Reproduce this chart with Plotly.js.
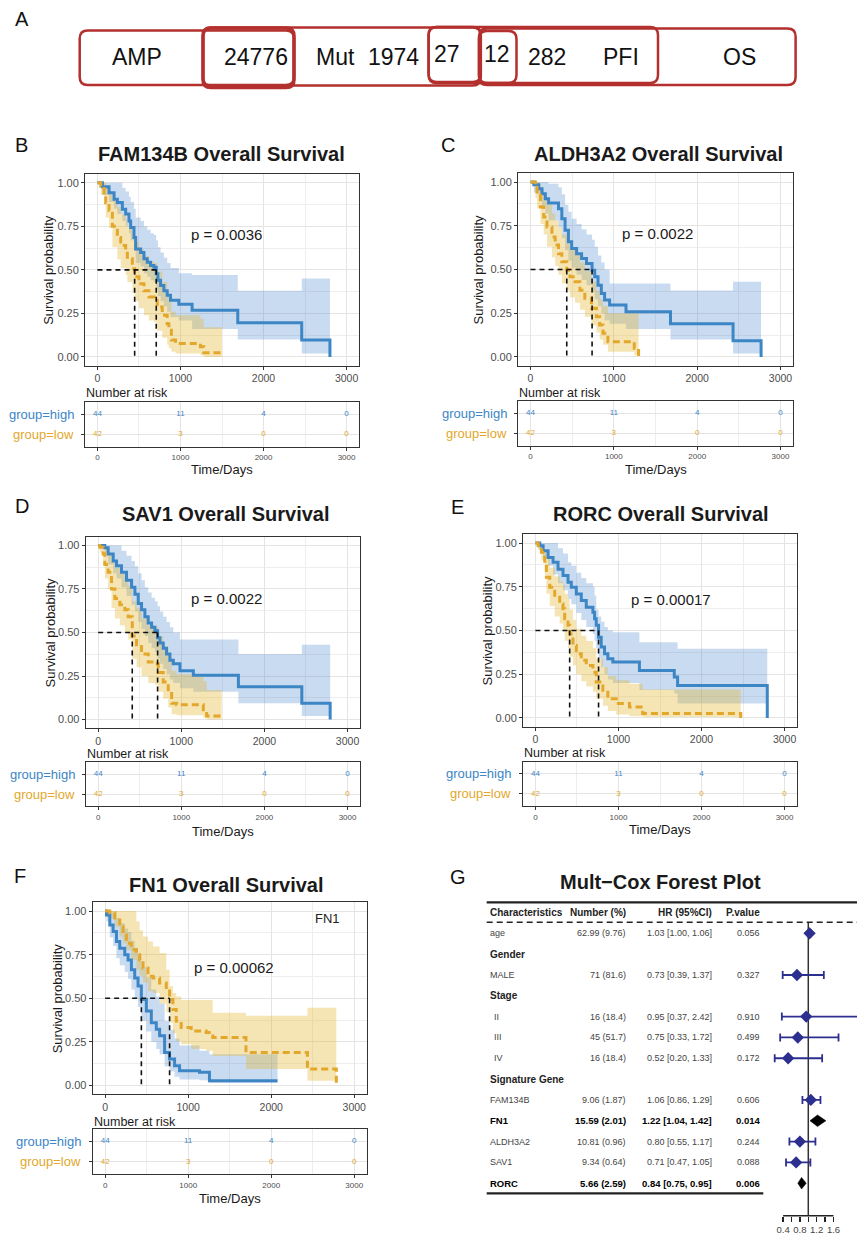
<!DOCTYPE html>
<html><head><meta charset="utf-8">
<script src="https://cdn.plot.ly/plotly-3.0.1.min.js"></script>
<style>html,body{margin:0;padding:0;background:#fff}#chart{width:857px;height:1236px}</style>
</head><body><div id="chart"></div>
<script>
// ---------------- DATA ----------------
// Panel A
const panelA_labels = ['AMP','24776','Mut','1974','27','12','282','PFI','OS'];

// Risk table (same for all KM panels)
const risk_times = [0,1000,2000,3000];
const risk_high = [44,11,4,0];
const risk_low = [42,3,0,0];
const pvalues = ['p = 0.0036','p = 0.0022','p = 0.0022','p = 0.00017','p = 0.00062'];

// B: FAM134B
const fam_high_t = [0,60,140,200,240,300,340,380,400,440,460,520,560,600,640,680,708,728,760,800,840,880,980,1140,1690,2460,2800];
const fam_high_s = [1,.977,.943,.905,.886,.848,.82,.78,.743,.686,.62,.60,.563,.544,.525,.515,.477,.44,.41,.38,.354,.325,.302,.268,.196,.097,0];
const fam_high_upper = [1,1,1,1,1,.97,.95,.92,.89,.85,.80,.78,.75,.73,.71,.70,.67,.63,.60,.57,.54,.51,.48,.47,.38,.45,.45];
const fam_high_lower = [1,.93,.89,.85,.82,.78,.75,.71,.67,.61,.54,.52,.48,.46,.44,.43,.39,.35,.32,.29,.26,.23,.21,.16,.10,.02,.02];
const fam_low_t = [0,40,80,100,140,180,240,280,340,360,420,448,500,560,620,680,720,780,840,860,890,940,1240,1280,1500];
const fam_low_s = [1,.98,.943,.886,.84,.75,.686,.64,.61,.563,.506,.46,.42,.38,.344,.335,.287,.24,.19,.154,.097,.078,.059,.025,.025];
const fam_low_upper = [1,1,1,.98,.95,.91,.86,.82,.79,.75,.70,.66,.62,.58,.55,.54,.49,.43,.37,.33,.26,.24,.22,.17,.17];
const fam_low_lower = [1,.93,.87,.80,.74,.63,.56,.51,.47,.43,.37,.32,.28,.24,.21,.20,.15,.11,.07,.05,.03,.02,.01,0,0];

// C: ALDH3A2
const aldh_high_t = [0,40,99,138,178,217,336,376,415,455,494,553,613,672,739,771,810,850,889,949,1146,1680,2431,2767];
const aldh_high_s = [1,.985,.962,.933,.905,.88,.848,.79,.724,.658,.62,.59,.563,.534,.496,.458,.41,.363,.325,.297,.259,.19,.093,0];
const aldh_high_upper = [1,1,1,1,1,.99,.97,.93,.87,.83,.79,.76,.73,.70,.67,.63,.58,.54,.50,.42,.42,.38,.43,.43];
const aldh_high_lower = [1,.94,.90,.86,.82,.78,.74,.68,.61,.55,.51,.47,.44,.41,.37,.33,.29,.25,.21,.19,.16,.10,.02,.02];
const aldh_low_t = [0,59,79,119,158,198,257,296,336,376,435,474,534,593,652,731,791,830,870,929,1245,1297];
const aldh_low_s = [1,.97,.924,.857,.80,.743,.686,.64,.59,.544,.496,.458,.43,.382,.335,.278,.23,.183,.135,.087,.05,0];
const aldh_low_upper = [1,1,.99,.96,.92,.87,.82,.78,.74,.70,.65,.62,.59,.54,.49,.43,.38,.33,.29,.25,.25,.25];
const aldh_low_lower = [1,.91,.85,.76,.70,.63,.57,.52,.47,.42,.38,.34,.31,.27,.23,.18,.14,.10,.07,.03,.01,.01];

// D: SAV1
const sav_high_t = [0,80,120,181,221,281,341,402,442,482,522,562,602,643,683,715,743,783,823,863,904,984,1145,1687,2450,2791];
const sav_high_s = [1,.987,.95,.91,.883,.846,.80,.76,.72,.667,.63,.59,.554,.53,.51,.47,.44,.41,.376,.34,.32,.28,.254,.188,.094,0];
const sav_high_upper = [1,1,1,1,1,.97,.94,.91,.88,.84,.80,.76,.73,.70,.68,.65,.62,.59,.56,.53,.50,.46,.46,.376,.43,.43];
const sav_high_lower = [1,.95,.89,.84,.81,.76,.71,.66,.62,.56,.52,.48,.44,.41,.39,.35,.32,.29,.26,.23,.21,.18,.16,.094,.02,.02];
const sav_low_t = [0,20,60,80,120,161,201,261,321,361,410,462,522,602,683,723,783,843,884,944,1265,1305,1486];
const sav_low_s = [1,.99,.95,.89,.846,.75,.695,.66,.63,.59,.48,.43,.376,.33,.32,.27,.216,.16,.094,.085,.056,.02,.02];
const sav_low_upper = [1,1,1,.99,.96,.91,.87,.84,.81,.77,.68,.64,.58,.54,.53,.48,.42,.36,.28,.26,.22,.17,.17];
const sav_low_lower = [1,.96,.89,.81,.75,.64,.58,.54,.50,.46,.35,.30,.25,.21,.20,.16,.12,.07,.03,.025,.01,0,0];

// E: RORC
const rorc_high_t = [0,52,92,152,212,272,332,392,432,492,552,612,692,712,732,760,792,832,872,932,1252,1672,1712,2792];
const rorc_high_s = [1,.985,.956,.918,.89,.85,.814,.776,.747,.709,.671,.633,.605,.567,.53,.462,.405,.367,.338,.32,.272,.234,.186,0];
const rorc_high_upper = [1,1,1,1,1,.97,.94,.89,.87,.83,.80,.77,.75,.70,.62,.58,.55,.52,.50,.49,.433,.433,.395,.395];
const rorc_high_lower = [1,.95,.91,.87,.82,.77,.73,.68,.65,.60,.56,.52,.48,.44,.40,.34,.29,.25,.22,.20,.16,.14,.082,.082];
const rorc_low_t = [0,32,72,112,132,172,232,292,332,352,392,412,452,492,552,612,692,732,812,872,972,1132,1292,2472];
const rorc_low_s = [1,.985,.947,.88,.804,.747,.69,.652,.624,.567,.53,.48,.414,.367,.33,.30,.262,.205,.158,.11,.082,.063,.025,0];
const rorc_low_upper = [1,1,.985,.95,.91,.86,.81,.78,.76,.71,.68,.62,.56,.51,.47,.44,.40,.34,.29,.24,.215,.195,.163,.163];
const rorc_low_lower = [1,.96,.90,.81,.71,.64,.58,.54,.50,.44,.40,.35,.30,.25,.21,.18,.15,.11,.07,.04,.02,.01,.005,.005];

// F: FN1
const fn1_high_t = [0,16,56,96,136,176,236,276,316,356,396,436,496,556,616,656,716,776,836,896,1136,1256,2076];
const fn1_high_s = [1,.977,.92,.882,.825,.787,.75,.72,.664,.617,.57,.493,.427,.36,.323,.285,.19,.152,.114,.085,.076,.028,.028];
const fn1_high_upper = [1,1,1,.99,.96,.93,.90,.88,.83,.79,.75,.68,.62,.55,.51,.47,.37,.32,.27,.23,.20,.18,.18];
const fn1_high_lower = [1,.94,.85,.80,.73,.69,.65,.61,.55,.50,.45,.37,.31,.25,.21,.18,.11,.08,.05,.035,.03,.015,.015];
const fn1_low_t = [0,56,116,176,216,256,316,376,416,456,516,576,656,736,776,816,856,916,1036,1216,1296,1696,2436,2784];
const fn1_low_s = [1,.99,.96,.91,.863,.816,.778,.75,.72,.674,.626,.617,.588,.55,.493,.436,.37,.332,.313,.304,.275,.19,.095,.01];
const fn1_low_upper = [1,1,1,1,1,1,1,.94,.89,.854,.825,.797,.759,.664,.57,.53,.51,.49,.49,.49,.417,.40,.446,.446];
const fn1_low_lower = [1,.958,.91,.854,.816,.778,.72,.664,.63,.59,.54,.53,.47,.42,.36,.30,.256,.237,.21,.20,.17,.095,.028,.028];

// G: forest plot
const forest_labels = ['age','Gender','MALE','Stage','II','III','IV','Signature Gene','FAM134B','FN1','ALDH3A2','SAV1','RORC'];
const forest_number = ['62.99 (9.76)','','71 (81.6)','','16 (18.4)','45 (51.7)','16 (18.4)','','9.06 (1.87)','15.59 (2.01)','10.81 (0.96)','9.34 (0.64)','5.66 (2.59)'];
const forest_hr = [1.03,null,0.73,null,0.95,0.75,0.52,null,1.06,1.22,0.80,0.71,0.84];
const forest_lo = [1.00,null,0.39,null,0.37,0.33,0.20,null,0.86,1.04,0.55,0.47,0.75];
const forest_hi = [1.06,null,1.37,null,2.42,1.72,1.33,null,1.29,1.42,1.17,1.05,0.95];
const forest_p = ['0.056','','0.327','','0.910','0.499','0.172','','0.606','0.014','0.244','0.088','0.006'];
const forest_ticks = [0.4,0.6,0.8,1.0,1.2,1.4,1.6];

// ---------------- STYLE / LAYOUT ----------------
const W = 857, H = 1236;
const FONT = 'Liberation Sans, Arial, Helvetica, sans-serif';
const BLUE = '#3C86C6', ORANGE = '#E2A72B', NAVY = '#2D2F8E', RED = '#B3302E';
const BLUE_BAND = 'rgba(60,125,200,0.28)', ORANGE_BAND = 'rgba(228,178,35,0.34)';
const GRID = '#E6E3E3', MINOR = '#EFEDED';
const px = x => x / W, py = y => 1 - y / H;

const panels = [
  {title:'FAM134B Overall Survival', ht:fam_high_t, hs:fam_high_s, hu:fam_high_upper, hl:fam_high_lower, lt:fam_low_t, ls:fam_low_s, lu:fam_low_upper, ll:fam_low_lower},
  {title:'ALDH3A2 Overall Survival', ht:aldh_high_t, hs:aldh_high_s, hu:aldh_high_upper, hl:aldh_high_lower, lt:aldh_low_t, ls:aldh_low_s, lu:aldh_low_upper, ll:aldh_low_lower},
  {title:'SAV1 Overall Survival', ht:sav_high_t, hs:sav_high_s, hu:sav_high_upper, hl:sav_high_lower, lt:sav_low_t, ls:sav_low_s, lu:sav_low_upper, ll:sav_low_lower},
  {title:'RORC Overall Survival', ht:rorc_high_t, hs:rorc_high_s, hu:rorc_high_upper, hl:rorc_high_lower, lt:rorc_low_t, ls:rorc_low_s, lu:rorc_low_upper, ll:rorc_low_lower},
  {title:'FN1 Overall Survival', ht:fn1_high_t, hs:fn1_high_s, hu:fn1_high_upper, hl:fn1_high_lower, lt:fn1_low_t, ls:fn1_low_s, lu:fn1_low_upper, ll:fn1_low_lower}
];
const letters = ['B','C','D','E','F'];
const POS = [
  {x:[85,359], y:[174,365.7], r:[402,446.5], title:[221,154], letter:[21,145], ytitle:49, nar:392.5, lblRight:76, time:469, pv:[1100,0.70]},
  {x:[518,793], y:[173.3,365.7], r:[401,445.5], title:[658,154], letter:[448,145], ytitle:478, nar:392.5, lblRight:509, time:469, pv:[1075,0.705]},
  {x:[85.7,360], y:[536.7,728.3], r:[762.3,806], title:[226,514], letter:[22,506], ytitle:50, nar:753.5, lblRight:77, time:831.7, pv:[1089,0.695]},
  {x:[523,797], y:[534.3,726.7], r:[761.7,806], title:[661,514], letter:[457,507], ytitle:487, nar:752.8, lblRight:513, time:829, pv:[1129,0.68]},
  {x:[92.7,366.7], y:[902.3,1094.3], r:[1129.3,1174], title:[226,885], letter:[20,876], ytitle:57, nar:1121.5, lblRight:83, time:1198, pv:[1040,0.677]}
];

function median(t, s) { for (let i = 0; i < s.length; i++) if (s[i] <= 0.5) return t[i]; return null; }
const ax = (n, c) => c + (n === 1 ? '' : n);
const axKey = (n, c) => c + 'axis' + (n === 1 ? '' : n);

const traces = [], annotations = [], shapes = [];
const layout = {
  width: W, height: H, margin: {l:0, r:0, t:0, b:0},
  paper_bgcolor: '#ffffff', plot_bgcolor: 'rgba(0,0,0,0)',
  showlegend: false, font: {family: FONT, color: '#222'},
  annotations, shapes
};

function addText(text, x, y, size, opts) {
  annotations.push(Object.assign({text, x: px(x), y: py(y), xref:'paper', yref:'paper', showarrow:false,
    xanchor:'center', yanchor:'middle', font:{family:FONT, size, color:'#1A1A1A'}}, opts || {}));
}

panels.forEach((p, i) => {
  const P = POS[i];
  const k = 2*i + 1, r = 2*i + 2;
  const xk = ax(k,'x'), yk = ax(k,'y'), xr = ax(r,'x'), yr = ax(r,'y');
  const base = {xaxis: xk, yaxis: yk, hoverinfo:'skip', showlegend:false};
  // confidence bands
  traces.push(Object.assign({x:p.ht, y:p.hu, mode:'lines', line:{shape:'hv', width:0, color:'rgba(0,0,0,0)'}}, base));
  traces.push(Object.assign({x:p.ht, y:p.hl, mode:'lines', fill:'tonexty', fillcolor:BLUE_BAND, line:{shape:'hv', width:0, color:'rgba(0,0,0,0)'}}, base));
  traces.push(Object.assign({x:p.lt, y:p.lu, mode:'lines', line:{shape:'hv', width:0, color:'rgba(0,0,0,0)'}}, base));
  traces.push(Object.assign({x:p.lt, y:p.ll, mode:'lines', fill:'tonexty', fillcolor:ORANGE_BAND, line:{shape:'hv', width:0, color:'rgba(0,0,0,0)'}}, base));
  // curves
  traces.push(Object.assign({x:p.ht, y:p.hs, mode:'lines', line:{shape:'hv', width:3, color:BLUE}}, base));
  traces.push(Object.assign({x:p.lt, y:p.ls, mode:'lines', line:{shape:'hv', width:3, color:ORANGE, dash:'7px,4px'}}, base));
  // median lines
  const mh = median(p.ht, p.hs), ml = median(p.lt, p.ls), mm = Math.max(mh, ml);
  traces.push(Object.assign({x:[0, mm, null, mh, mh, null, ml, ml], y:[0.5, 0.5, null, 0.5, 0, null, 0.5, 0],
    mode:'lines', line:{width:1.6, color:'#111', dash:'5px,4px'}}, base));
  // risk table
  traces.push({x:risk_times, y:risk_times.map(()=>2), text:risk_high.map(String), mode:'text', textfont:{family:FONT, size:8, color:BLUE},
    xaxis:xr, yaxis:yr, hoverinfo:'skip', showlegend:false, cliponaxis:false});
  traces.push({x:risk_times, y:risk_times.map(()=>1), text:risk_low.map(String), mode:'text', textfont:{family:FONT, size:8, color:ORANGE},
    xaxis:xr, yaxis:yr, hoverinfo:'skip', showlegend:false, cliponaxis:false});

  const common = {showline:true, mirror:true, linecolor:'#333', linewidth:1, zeroline:false, ticks:'outside', ticklen:3,
    tickcolor:'#333', tickwidth:1, showgrid:true, gridcolor:GRID, gridwidth:1, fixedrange:true};
  layout[axKey(k,'x')] = Object.assign({}, common, {domain:[px(P.x[0]), px(P.x[1])], anchor:yk, range:[-150,3150],
    tickmode:'array', tickvals:[0,1000,2000,3000], tickfont:{family:FONT, size:10.5, color:'#4D4D4D'},
    minor:{tickmode:'linear', tick0:0, dtick:500, showgrid:true, gridcolor:MINOR, gridwidth:1, ticks:''}});
  layout[axKey(k,'y')] = Object.assign({}, common, {domain:[py(P.y[1]), py(P.y[0])], anchor:xk, range:[-0.05,1.05],
    tickmode:'array', tickvals:[0,0.25,0.5,0.75,1], ticktext:['0.00','0.25','0.50','0.75','1.00'],
    tickfont:{family:FONT, size:11, color:'#4D4D4D'},
    minor:{tickmode:'linear', tick0:0, dtick:0.125, showgrid:true, gridcolor:MINOR, gridwidth:1, ticks:''}});
  layout[axKey(r,'x')] = Object.assign({}, common, {domain:[px(P.x[0]), px(P.x[1])], anchor:yr, range:[-150,3150],
    tickmode:'array', tickvals:[0,1000,2000,3000], tickfont:{family:FONT, size:8, color:'#4D4D4D'},
    minor:{tickmode:'linear', tick0:0, dtick:500, showgrid:true, gridcolor:MINOR, gridwidth:1, ticks:''}});
  layout[axKey(r,'y')] = Object.assign({}, common, {domain:[py(P.r[1]), py(P.r[0])], anchor:xr, range:[0.4,2.6],
    tickmode:'array', tickvals:[1,2], showticklabels:false});

  // texts
  addText('<b>' + p.title + '</b>', P.title[0], P.title[1], 20, {font:{family:FONT, size:20, color:'#1A1A1A'}});
  addText(letters[i], P.letter[0], P.letter[1], 20, {font:{family:FONT, size:20, color:'#111'}});
  addText('Survival probability', P.ytitle, (P.y[0]+P.y[1])/2, 13, {textangle:-90});
  addText('Number at risk', P.x[0] - 1, P.nar, 12.5, {xanchor:'left'});
  addText('Time/Days', (P.x[0]+P.x[1])/2, P.time, 13);
  annotations.push({text:'group=high', xref:'paper', yref:yr, x:px(P.lblRight), y:2, xanchor:'right', yanchor:'middle', showarrow:false,
    font:{family:FONT, size:13, color:BLUE}});
  annotations.push({text:'group=low', xref:'paper', yref:yr, x:px(P.lblRight), y:1, xanchor:'right', yanchor:'middle', showarrow:false,
    font:{family:FONT, size:13, color:ORANGE}});
  annotations.push({text:pvalues[i], xref:xk, yref:yk, x:P.pv[0], y:P.pv[1], xanchor:'left', yanchor:'middle', showarrow:false,
    font:{family:FONT, size:15, color:'#1A1A1A'}});
});
// FN1 label inside panel F
annotations.push({text:'FN1', xref:'x9', yref:'y9', x:2504, y:0.956, xanchor:'left', yanchor:'middle', showarrow:false,
  font:{family:FONT, size:13, color:'#222'}});

// ---------------- Panel A ----------------
addText('A', 22, 19, 20, {font:{family:FONT, size:20, color:'#111'}});
const boxesA = [ // [x0,y0,x1,y1,width]
  [79.7,30.5,294,85,2.5],[203,27.5,480.8,85.5,2.5],[428.6,27,658,83,2.5],[479,28.5,795.6,85,2.5],
  [428.6,27,480.8,82,2.5],[479,31,516.5,83,2.5],[203,28,294,87.5,3.6]
];
function rrect(x0,y0,x1,y1,rad){
  const X = v => px(v), Y = v => py(v);
  return `M${X(x0+rad)},${Y(y0)} L${X(x1-rad)},${Y(y0)} Q${X(x1)},${Y(y0)} ${X(x1)},${Y(y0+rad)} L${X(x1)},${Y(y1-rad)} Q${X(x1)},${Y(y1)} ${X(x1-rad)},${Y(y1)} L${X(x0+rad)},${Y(y1)} Q${X(x0)},${Y(y1)} ${X(x0)},${Y(y1-rad)} L${X(x0)},${Y(y0+rad)} Q${X(x0)},${Y(y0)} ${X(x0+rad)},${Y(y0)} Z`;
}
boxesA.forEach(b => shapes.push({type:'path', xref:'paper', yref:'paper', path:rrect(b[0],b[1],b[2],b[3],8), line:{color:RED, width:b[4]}}));
const posA = [[137,57],[255.5,57],[335,57],[393,57],[446.7,54],[497,54],[547,57],[621,57],[739,57]];
panelA_labels.forEach((t,i) => addText(t, posA[i][0], posA[i][1], 22, {font:{family:FONT, size:23, color:'#111'}}));

// ---------------- Panel G: forest ----------------
addText('G', 458, 877, 20, {font:{family:FONT, size:20, color:'#111'}});
addText('<b>Mult\u2212Cox Forest Plot</b>', 660, 882, 20, {font:{family:FONT, size:20, color:'#1A1A1A'}});
const FX = 'x11', FY = 'y11';
layout.xaxis11 = {domain:[px(770), 1], anchor:FY, range:[0.088, 2.16], showgrid:false, zeroline:false, showline:false,
  tickmode:'array', tickvals:forest_ticks, ticktext:forest_ticks.map((v,i)=> i%2===0 ? v.toFixed(1) : ''),
  ticks:'outside', ticklen:5, tickwidth:1.3, tickcolor:'#222', tickfont:{family:FONT, size:9.5, color:'#444'}, fixedrange:true};
layout.yaxis11 = {domain:[py(1215.7), py(902.3)], anchor:FX, range:[13.56, -1.49], visible:false, fixedrange:true};
// axis line (0.4 .. 1.6) and reference line at HR = 1
shapes.push({type:'line', xref:FX, yref:'paper', x0:forest_ticks[0], x1:forest_ticks[forest_ticks.length-1], y0:py(1215.7), y1:py(1215.7), line:{color:'#222', width:1.5}});
shapes.push({type:'line', xref:FX, yref:FY, x0:1, x1:1, y0:-0.53, y1:13.56, line:{color:'#333', width:1.5}, layer:'below'});
// table rules
shapes.push({type:'line', xref:'paper', yref:'paper', x0:px(486.7), x1:1, y0:py(902.3), y1:py(902.3), line:{color:'#222', width:2.2}});
shapes.push({type:'line', xref:'paper', yref:'paper', x0:px(486.7), x1:1, y0:py(922.3), y1:py(922.3), line:{color:'#222', width:1.4, dash:'6px,4px'}});
shapes.push({type:'line', xref:'paper', yref:'paper', x0:px(486.7), x1:px(763.3), y0:py(1193.3), y1:py(1193.3), line:{color:'#222', width:2.2}});

const sig = forest_p.map(v => v !== '' && parseFloat(v) < 0.05);
// regular diamonds with CI
const reg = forest_hr.map((v,i) => (v !== null && !sig[i]) ? i : -1).filter(i => i >= 0);
traces.push({x:reg.map(i=>forest_hr[i]), y:reg, xaxis:FX, yaxis:FY, mode:'markers', hoverinfo:'skip', showlegend:false,
  marker:{symbol:'diamond', size:9.5, color:NAVY, line:{width:0}},
  error_x:{type:'data', symmetric:false, array:reg.map(i=>forest_hi[i]-forest_hr[i]), arrayminus:reg.map(i=>forest_hr[i]-forest_lo[i]),
    color:NAVY, thickness:1.8, width:4}});
// summary diamonds (significant rows)
const sx = [], sy = [];
forest_hr.forEach((v,i) => { if (v !== null && sig[i]) {
  sx.push(forest_lo[i], v, forest_hi[i], v, forest_lo[i], null);
  sy.push(i, i-0.28, i, i+0.28, i, null);
}});
traces.push({x:sx, y:sy, xaxis:FX, yaxis:FY, mode:'lines', fill:'toself', fillcolor:'#000', line:{width:0.5, color:'#000'}, hoverinfo:'skip', showlegend:false});

// table text
const COL = {lab:487.7, num:628.3, hr:714.3, p:762};
const cell = (text, xpx, row, anchor, size, color) => annotations.push({text, xref:'paper', yref:FY, x:px(xpx), y:row,
  xanchor:anchor, yanchor:'middle', showarrow:false, font:{family:FONT, size, color}});
cell('<b>Characteristics</b>', COL.lab, -1, 'left', 10, '#222');
cell('<b>Number (%)</b>', COL.num, -1, 'right', 10, '#222');
cell('<b>HR (95%CI)</b>', COL.hr, -1, 'right', 10, '#222');
cell('<b>P.value</b>', COL.p, -1, 'right', 10, '#222');
const indentRows = ['II','III','IV'];
forest_labels.forEach((lab, i) => {
  if (forest_hr[i] === null) { cell('<b>' + lab + '</b>', COL.lab, i, 'left', 10, '#222'); return; }
  const hrTxt = `${forest_hr[i].toFixed(2)} [${forest_lo[i].toFixed(2)}, ${forest_hi[i].toFixed(2)}]`;
  const lx = COL.lab + (indentRows.includes(lab) ? 4 : 0);
  if (sig[i]) {
    cell('<b>' + lab + '</b>', lx, i, 'left', 9.5, '#000');
    cell('<b>' + forest_number[i] + '</b>', COL.num, i, 'right', 9.5, '#000');
    cell('<b>' + hrTxt + '</b>', COL.hr, i, 'right', 9.5, '#000');
    cell('<b>' + forest_p[i] + '</b>', COL.p, i, 'right', 9.5, '#000');
  } else {
    cell(lab, lx, i, 'left', 9, '#444');
    cell(forest_number[i], COL.num, i, 'right', 9, '#444');
    cell(hrTxt, COL.hr, i, 'right', 9, '#444');
    cell(forest_p[i], COL.p, i, 'right', 9, '#444');
  }
});

Plotly.newPlot('chart', traces, layout, {displayModeBar:false, staticPlot:true});
</script></body></html>
